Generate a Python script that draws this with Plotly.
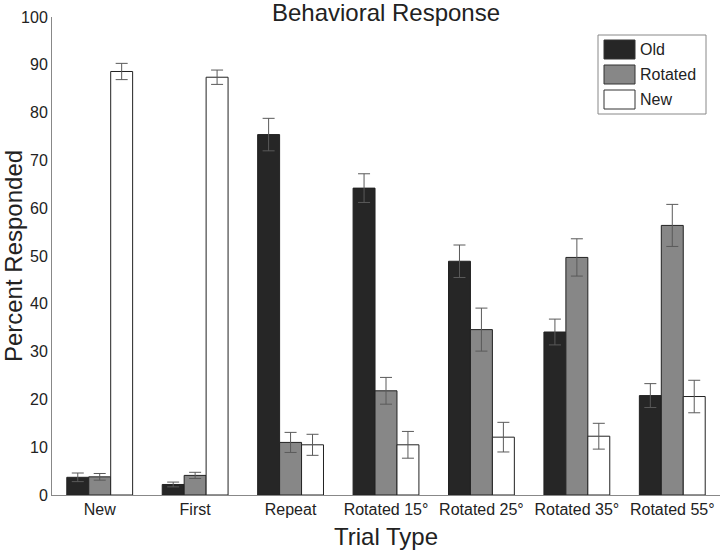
import plotly.graph_objects as go

categories = ["New", "First", "Repeat", "Rotated 15°", "Rotated 25°", "Rotated 35°", "Rotated 55°"]

old_vals = [3.7, 2.2, 75.4, 64.2, 48.9, 34.1, 20.8]
old_err = [0.9, 0.5, 3.4, 3.0, 3.4, 2.7, 2.5]

rot_vals = [3.8, 4.1, 11.0, 21.8, 34.6, 49.7, 56.4]
rot_err = [0.7, 0.65, 2.1, 2.8, 4.5, 3.9, 4.4]

new_vals = [88.6, 87.4, 10.5, 10.5, 12.1, 12.3, 20.6]
new_err = [1.7, 1.5, 2.2, 2.8, 3.1, 2.7, 3.4]

series = [
    ("Old", old_vals, old_err, "#262626"),
    ("Rotated", rot_vals, rot_err, "#878787"),
    ("New", new_vals, new_err, "#ffffff"),
]

font = "Liberation Sans, Arial, sans-serif"

fig = go.Figure()
for name, vals, err, col in series:
    fig.add_trace(go.Bar(
        x=categories, y=vals, name=name,
        marker=dict(color=col, line=dict(color="#222222", width=1)),
        error_y=dict(type="data", array=err, color="#5a5a5a", thickness=1, width=6),
        showlegend=False,
    ))

# legend drawn by hand to get MATLAB-like wide swatches
fig.add_shape(type="rect", xref="paper", yref="paper",
              x0=(598 - 52) / 668, x1=(706 - 52) / 668,
              y0=(495 - 114) / 478, y1=(495 - 35) / 478,
              line=dict(color="#888888", width=1), fillcolor="white")
for i, (name, vals, err, col) in enumerate(series):
    top = 40 + i * 25
    fig.add_shape(type="rect", xref="paper", yref="paper",
                  x0=(604 - 52) / 668, x1=(635 - 52) / 668,
                  y0=(495 - top - 19) / 478, y1=(495 - top) / 478,
                  line=dict(color="#333333", width=1), fillcolor=col)
    fig.add_annotation(text=name, xref="paper", yref="paper",
                       x=(638 - 52) / 668, y=(495 - top - 9.5) / 478,
                       xanchor="left", yanchor="middle", showarrow=False,
                       font=dict(size=16, color="#222222", family=font))

fig.update_layout(
    width=720, height=552,
    title=dict(text="Behavioral Response", x=386 / 720, xanchor="center",
               xref="container", yref="container",
               y=1 - 13 / 552, yanchor="middle", automargin=False,
               font=dict(size=24, color="#222222", family=font)),
    font=dict(family=font, size=16, color="#222222"),
    barmode="group", bargap=0.31, bargroupgap=0,
    plot_bgcolor="white", paper_bgcolor="white",
    margin=dict(l=52, r=0, t=17, b=57, autoexpand=False),
    xaxis=dict(title=dict(text="Trial Type", font=dict(size=24), standoff=10),
               automargin=False, range=[-0.5, 6.5],
               showline=True, linecolor="#888888", linewidth=1,
               ticks="", showgrid=False, tickfont=dict(size=16)),
    yaxis=dict(title=dict(text="Percent Responded", font=dict(size=24), standoff=0),
               automargin=False,
               range=[0, 100], dtick=10, showline=True, linecolor="#888888",
               linewidth=1, ticks="", showgrid=False, zeroline=False,
               tickfont=dict(size=16)),
)

# page body has a default 8px margin; drop it so the figure fills the window
fig.write_html("out.html", config={"displayModeBar": False},
               post_script="document.body.style.margin='0';")
